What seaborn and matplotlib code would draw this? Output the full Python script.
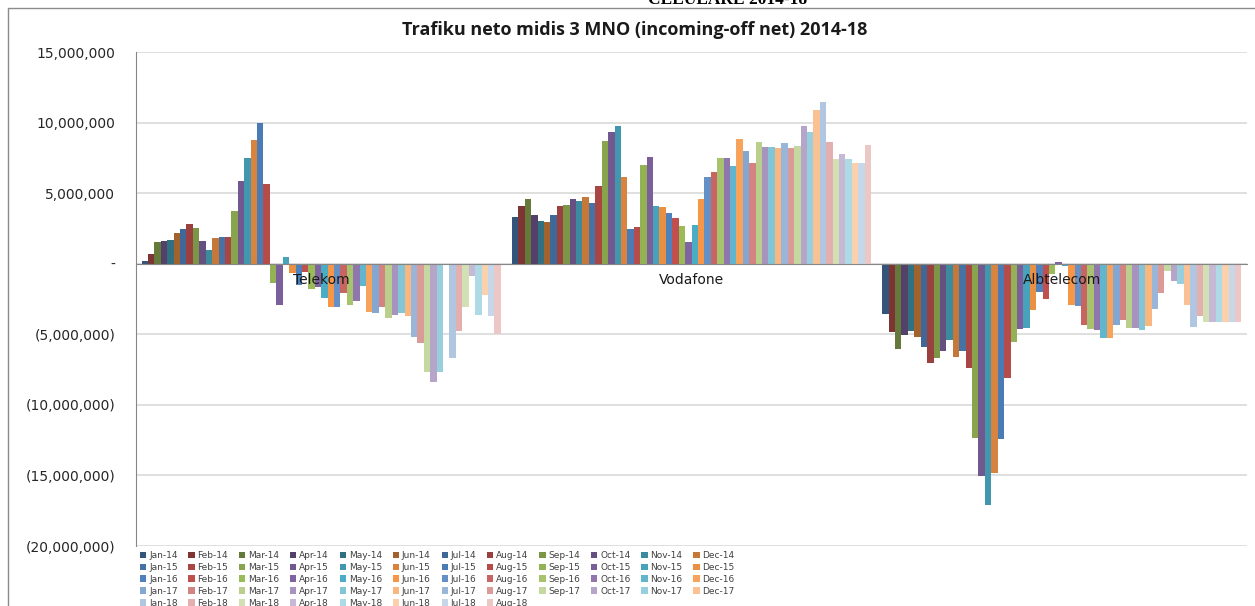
import numpy as np
import pandas as pd
import matplotlib
matplotlib.use("Agg")
import matplotlib.pyplot as plt
import seaborn as sns
from matplotlib.patches import Patch
from matplotlib.ticker import FuncFormatter
from matplotlib.colors import to_rgb
from matplotlib.lines import Line2D

# ---------------- data (values in millions) ----------------
companies = ["Telekom", "Vodafone", "Albtelecom"]
month_names = ["Jan", "Feb", "Mar", "Apr", "May", "Jun",
               "Jul", "Aug", "Sep", "Oct", "Nov", "Dec"]
years = ["14", "15", "16", "17", "18"]
months = [f"{m}-{y}" for y in years for m in month_names][:56]   # Jan-14 .. Aug-18

telekom = [0.21, 0.66, 1.52, 1.59, 1.71, 2.16, 2.44, 2.84, 2.56, 1.64, 0.95, 1.85,
           1.92, 1.92, 3.72, 5.85, 7.46, 8.79, 9.98, 5.62, -1.35, -2.89, 0.45, -0.64,
           -1.52, -0.60, -1.81, -1.64, -2.46, -3.10, -3.10, -2.04, -2.93, -2.63, -1.57, -3.45,
           -3.52, -3.10, -3.87, -3.64, -3.52, -3.69, -5.21, -5.59, -7.68, -8.38, -7.68, 0.0,
           -6.71, -4.77, -3.05, -0.87, -3.64, -2.23, -3.69, -5.00]

vodafone = [3.33, 4.11, 4.56, 3.44, 3.04, 2.99, 3.44, 4.11, 4.16, 4.56, 4.44, 4.70,
            4.28, 5.49, 8.72, 9.33, 9.74, 6.13, 2.49, 2.57, 6.98, 7.58, 4.09, 4.01,
            3.56, 3.23, 2.64, 1.54, 2.76, 4.56, 6.15, 6.48, 7.48, 7.48, 6.91, 8.84,
            8.00, 7.13, 8.60, 8.29, 8.29, 8.19, 8.55, 8.19, 8.31, 9.79, 9.31, 10.88,
            11.47, 8.62, 7.43, 7.77, 7.41, 7.15, 7.15, 8.38]

albtelecom = [-3.54, -4.83, -6.06, -5.07, -4.74, -5.21, -5.92, -7.00, -6.70, -6.20, -5.38, -6.58,
              -6.16, -7.41, -12.38, -15.07, -17.10, -14.81, -12.43, -8.09, -5.54, -4.60, -4.53, -3.30,
              -1.98, -2.52, -0.75, 0.12, -0.19, -2.90, -2.98, -4.34, -4.62, -4.72, -5.23, -5.26,
              -4.34, -4.01, -4.53, -4.53, -4.72, -4.39, -3.19, -2.09, -0.54, -1.22, -1.46, -2.91,
              -4.51, -3.71, -4.11, -4.11, -4.11, -4.11, -4.11, -4.11]

title = "Trafiku neto midis 3 MNO (incoming-off net) 2014-18"
heading = "CELULARE 2014-18"

# ---------------- colours (Excel-like accent shades) ----------------
base = ['#4F81BD', '#C0504D', '#9BBB59', '#8064A2', '#4BACC6', '#F79646']
shades = [-0.35, -0.2, -0.12, -0.05, 0.0, 0.12, 0.3, 0.42, 0.55, 0.68]


def shade(c, f):
    r = np.array(to_rgb(c))
    return tuple(r * (1 + f)) if f < 0 else tuple(r + (1 - r) * f)


palette = [shade(base[i % 6], shades[i // 6]) for i in range(len(months))]

# ---------------- figure ----------------
sns.set_style("white")
plt.rcParams['font.family'] = ['DejaVu Sans']

W, H = 1255, 606
fig = plt.figure(figsize=(W / 100, H / 100), dpi=100)
ax = fig.add_axes([136 / W, 1 - 546 / H, 1111 / W, (546 - 52) / H])

df = pd.DataFrame({
    "company": np.repeat(companies, len(months)),
    "month": months * len(companies),
    "value": np.concatenate([telekom, vodafone, albtelecom]) * 1e6,
})

sns.barplot(data=df, x="company", y="value", hue="month", order=companies,
            hue_order=months, palette=palette, width=0.97, errorbar=None,
            linewidth=0, saturation=1, legend=False, ax=ax)

ax.set_xlim(-0.5, 2.5)
ax.set_ylim(-20e6, 15e6)
ax.set_yticks(np.arange(-20e6, 15e6 + 1, 5e6))


def fmt(v, pos):
    if abs(v) < 1:
        return "-"
    if v < 0:
        return "({:,.0f})".format(-v)
    return "{:,.0f}".format(v)


ax.yaxis.set_major_formatter(FuncFormatter(fmt))
ax.yaxis.grid(True, color='#D9D9D9', lw=1.2)
ax.set_axisbelow(True)
ax.set_xlabel("")
ax.set_ylabel("")

for s in ["top", "right"]:
    ax.spines[s].set_visible(False)
ax.spines["left"].set_color('#868686')
ax.spines["bottom"].set_position(('data', 0))
ax.spines["bottom"].set_color('#868686')

ax.set_xticks([0, 1, 2])
ax.set_xticklabels(["", "", ""])
ax.set_xticks([-0.5, 0.5, 1.5, 2.5], minor=True)
ax.tick_params(axis='x', which='major', length=0)
ax.tick_params(axis='x', which='minor', length=4, color='#868686', direction='out')
ax.tick_params(axis='y', length=5, color='#868686', direction='out', pad=10,
               labelsize=10, labelcolor='#262626')

for i, c in enumerate(companies):
    ax.annotate(c, xy=(i, 0), xytext=(0, -6.5), textcoords='offset points',
                ha='center', va='top', fontsize=10, color='#1a1a1a', zorder=10)

# legend: row-major order (12 per row)
handles = [Patch(facecolor=palette[i], edgecolor='none') for i in range(len(months))]
order = [r * 12 + c for c in range(12) for r in range(5) if r * 12 + c < len(months)]
fig.legend([handles[i] for i in order], [months[i] for i in order], ncol=12,
           loc='upper left', bbox_to_anchor=(140 / W, 1 - 551 / H), frameon=False,
           fontsize=6.5, handlelength=0.7, handleheight=0.7, handletextpad=0.3,
           columnspacing=1.2, labelspacing=0.32, borderpad=0, borderaxespad=0,
           labelcolor='#404040')

fig.text(0.506, 1 - 30 / H, title, ha='center', va='center', fontsize=13,
         fontweight='bold', family='Open Sans', color='#1a1a1a')
fig.text(0.58, 1 - 4 / H, heading, ha='center', va='baseline', fontsize=12.5,
         fontweight='bold', family='Liberation Serif', color='#000000')

fig.add_artist(Line2D([8 / W, 1.0], [1 - 8 / H, 1 - 8 / H], color='#8c8c8c', lw=1,
                      transform=fig.transFigure))
fig.add_artist(Line2D([8 / W, 8 / W], [0, 1 - 8 / H], color='#8c8c8c', lw=1,
                      transform=fig.transFigure))

fig.savefig("out.png", dpi=100)
